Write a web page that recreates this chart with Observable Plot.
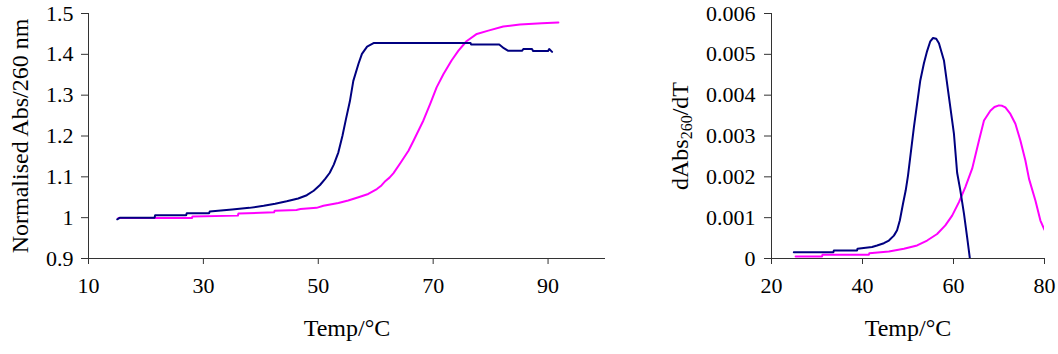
<!DOCTYPE html>
<html>
<head>
<meta charset="utf-8">
<script src="https://cdn.jsdelivr.net/npm/d3@7"></script>
<script src="https://cdn.jsdelivr.net/npm/@observablehq/plot@0.6"></script>
<style>
  html, body { margin: 0; padding: 0; background: #fff; }
  #wrap { display: flex; width: 1058px; height: 354px; }
  svg { display: block; }
</style>
</head>
<body>
<div id="wrap"></div>
<script>
// ---------- Left panel: normalised absorbance ----------
const tempNavyL = [15, 15.5, 21.5, 21.6, 27, 27.1, 31, 31.1, 35, 38, 40.5, 42.5, 44.5, 46.5, 48, 49.2, 50.3, 51.2, 52, 52.7, 53.5, 54.2, 54.8, 55.5, 56.1, 57, 57.6, 58.5, 59.7, 76.5, 76.6, 81.5, 82.3, 83, 85.5, 85.7, 87.2, 87.4, 90, 90.2, 90.7];
const absNavyL  = [0.996, 1.0, 1.0, 1.006, 1.006, 1.011, 1.011, 1.015, 1.02, 1.024, 1.029, 1.034, 1.04, 1.047, 1.055, 1.066, 1.08, 1.095, 1.11, 1.13, 1.16, 1.2, 1.24, 1.285, 1.335, 1.377, 1.401, 1.419, 1.428, 1.428, 1.424, 1.424, 1.415, 1.409, 1.409, 1.413, 1.413, 1.408, 1.408, 1.413, 1.406];

const tempMagL = [15.2, 28, 28.1, 36, 36.1, 42.3, 42.4, 46.2, 46.9, 49.7, 50.9, 53.5, 55.2, 57, 58.7, 60.2, 61, 61.7, 62.4, 63.1, 64.3, 65.7, 66.6, 68.3, 69.5, 70.6, 71.8, 73.2, 74.4, 75.8, 77.6, 79.6, 82.2, 85.1, 88.9, 91.8];
const absMagL  = [0.999, 0.999, 1.003, 1.005, 1.01, 1.013, 1.017, 1.019, 1.021, 1.024, 1.029, 1.036, 1.042, 1.05, 1.058, 1.07, 1.079, 1.09, 1.098, 1.109, 1.134, 1.164, 1.189, 1.238, 1.279, 1.319, 1.352, 1.385, 1.409, 1.432, 1.45, 1.458, 1.468, 1.473, 1.476, 1.478];

const xTicksL = [10, 30, 50, 70, 90];
const yTicksL = [0.9, 1, 1.1, 1.2, 1.3, 1.4, 1.5];

// ---------- Right panel: first derivative ----------
const tempNavyR = [24.9, 33.6, 33.7, 38.8, 38.9, 42.1, 43.2, 44.7, 45.8, 46.9, 47.6, 48.2, 48.9, 49.5, 50, 51.3, 52.7, 53.5, 54.2, 54.9, 55.5, 56.2, 56.8, 57.9, 59, 60.1, 60.8, 61.5, 62.3, 63, 63.6];
const dNavyR    = [0.000154, 0.000154, 0.000196, 0.000196, 0.000237, 0.00028, 0.000318, 0.000375, 0.00044, 0.00056, 0.00069, 0.00093, 0.00134, 0.00167, 0.00203, 0.00322, 0.00436, 0.00478, 0.00508, 0.00532, 0.0054, 0.00538, 0.00527, 0.00485, 0.00395, 0.00305, 0.0021, 0.00167, 0.0011, 0.00052, 0];

const tempMagR = [25.3, 31.1, 31.2, 41.4, 41.5, 45.8, 49.1, 52, 54.2, 56.4, 58.2, 59.7, 61.2, 62.6, 64.1, 65.6, 66.7, 68.1, 69, 70, 70.7, 71.4, 72.5, 73.6, 74.7, 75.8, 76.6, 78, 79.1, 80];
const dMagR    = [0.00005, 0.00005, 0.00009, 0.00009, 0.00013, 0.00017, 0.00024, 0.00032, 0.00044, 0.0006, 0.00081, 0.00105, 0.00138, 0.00175, 0.0022, 0.00289, 0.00338, 0.00362, 0.00371, 0.00375, 0.00374, 0.0037, 0.00354, 0.0033, 0.00289, 0.0024, 0.00195, 0.00142, 0.00093, 0.0007];

const xTicksR = [20, 40, 60, 80];
const yTicksR = [0, 0.001, 0.002, 0.003, 0.004, 0.005, 0.006];

const NAVY = "#000080", MAGENTA = "#FF00FF", AXIS = "#333";
const FONT = "'Liberation Serif', 'Times New Roman', serif";

const toRows = (xs, ys) => xs.map((x, i) => ({x, y: ys[i]}));

const left = Plot.plot({
  width: 640, height: 354,
  marginLeft: 88, marginRight: 35, marginTop: 13, marginBottom: 96,
  style: {fontFamily: FONT, fontSize: "22px", color: "#000", background: "#fff"},
  x: {domain: [10, 100]},
  y: {domain: [0.9, 1.5]},
  marks: [
    Plot.axisX({ticks: xTicksL, tickSize: 6, tickPadding: 13, label: null, stroke: AXIS, fill: "#000", fontSize: 22}),
    Plot.axisY({ticks: yTicksL, tickSize: 7, tickPadding: 8, label: null, stroke: AXIS, fill: "#000", fontSize: 22, tickFormat: d => String(d)}),
    Plot.ruleX([10], {stroke: AXIS}),
    Plot.ruleY([0.9], {stroke: AXIS}),
    Plot.line(toRows(tempMagL, absMagL), {x: "x", y: "y", stroke: MAGENTA, strokeWidth: 2}),
    Plot.line(toRows(tempNavyL, absNavyL), {x: "x", y: "y", stroke: NAVY, strokeWidth: 2}),
    Plot.text(["Temp/°C"], {frameAnchor: "bottom", dy: 77, fontSize: 24, fill: "#000"}),
    Plot.text(["Normalised Abs/260 nm"], {frameAnchor: "left", textAnchor: "middle", dx: -68, rotate: -90, fontSize: 24, fill: "#000"})
  ]
});

const right = Plot.plot({
  width: 418, height: 354,
  marginLeft: 131, marginRight: 14, marginTop: 13, marginBottom: 96,
  style: {fontFamily: FONT, fontSize: "22px", color: "#000", background: "#fff"},
  x: {domain: [20, 80]},
  y: {domain: [0, 0.006]},
  marks: [
    Plot.axisX({ticks: xTicksR, tickSize: 6, tickPadding: 13, label: null, stroke: AXIS, fill: "#000", fontSize: 22}),
    Plot.axisY({ticks: yTicksR, tickSize: 7, tickPadding: 9, label: null, stroke: AXIS, fill: "#000", fontSize: 22, tickFormat: d => String(d)}),
    Plot.ruleX([20], {stroke: AXIS}),
    Plot.ruleY([0], {stroke: AXIS}),
    Plot.line(toRows(tempMagR, dMagR), {x: "x", y: "y", stroke: MAGENTA, strokeWidth: 2, clip: true}),
    Plot.line(toRows(tempNavyR, dNavyR), {x: "x", y: "y", stroke: NAVY, strokeWidth: 2, clip: true}),
    Plot.text(["Temp/°C"], {frameAnchor: "bottom", dy: 77, fontSize: 24, fill: "#000"}),
    Plot.text(["dAbs260/dT"], {frameAnchor: "left", textAnchor: "middle", dx: -91, rotate: -90, fontSize: 24, fill: "#000"})
  ]
});

// Render the "260" of the right y label as a subscript
d3.select(right).selectAll("text").filter(function() { return this.textContent === "dAbs260/dT"; })
  .each(function() {
    const t = d3.select(this);
    t.text(null);
    t.append("tspan").text("dAbs");
    t.append("tspan").attr("baseline-shift", "-4").attr("font-size", "16px").text("260");
    t.append("tspan").attr("baseline-shift", "0").text("/dT");
  });

document.getElementById("wrap").append(left, right);
</script>
</body>
</html>
